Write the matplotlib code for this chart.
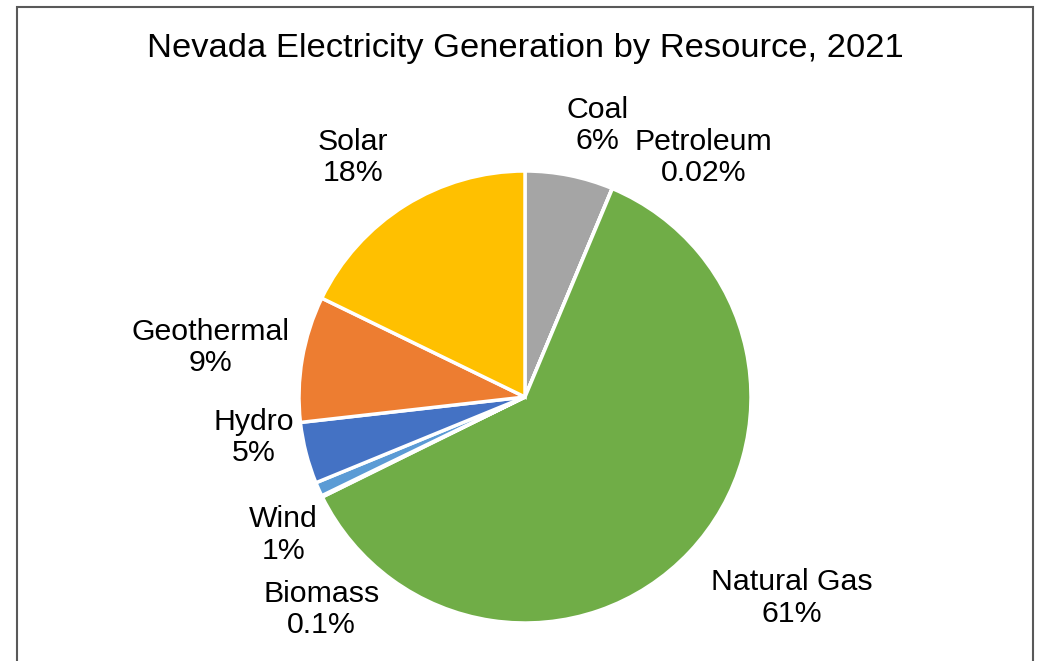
import matplotlib.pyplot as plt
from matplotlib.patches import Rectangle

plt.rcParams['font.family'] = ['Liberation Sans', 'DejaVu Sans']

# data, clockwise from 12 o'clock
resources = ['Coal', 'Petroleum', 'Natural Gas', 'Biomass', 'Wind', 'Hydro', 'Geothermal', 'Solar']
shares = [6.3, 0.02, 61.4, 0.1, 1.0, 4.4, 9.0, 17.8]
pct_labels = ['6%', '0.02%', '61%', '0.1%', '1%', '5%', '9%', '18%']
colors = ['#A5A5A5', '#7F7F7F', '#70AD47', '#264478', '#5B9BD5', '#4472C4', '#ED7D31', '#FFC000']

# label centres in pie units (radius = 1)
label_pos = {
    'Coal': (0.32, 1.20),
    'Petroleum': (0.79, 1.06),
    'Natural Gas': (1.18, -0.89),
    'Biomass': (-0.90, -0.94),
    'Wind': (-1.07, -0.61),
    'Hydro': (-1.20, -0.18),
    'Geothermal': (-1.39, 0.22),
    'Solar': (-0.76, 1.06),
}

W, H = 1043, 661
fig = plt.figure(figsize=(W / 100, H / 100), dpi=100)

# chart border
fig.patches.append(Rectangle((17 / W, -0.05), (1033 - 17) / W, 1.05 - 7 / H,
                             transform=fig.transFigure, fill=False,
                             edgecolor='#595959', linewidth=1.5))

cx, cy, r = 525, 397, 226
ax = fig.add_axes([(cx - r) / W, (H - cy - r) / H, 2 * r / W, 2 * r / H])
ax.pie(shares, colors=colors, startangle=90, counterclock=False,
       wedgeprops=dict(edgecolor='white', linewidth=2.5))
ax.set_xlim(-1, 1)
ax.set_ylim(-1, 1)
ax.set_aspect('auto')
ax.axis('off')

for name, pct in zip(resources, pct_labels):
    x, y = label_pos[name]
    ax.text(x, y, name + '\n' + pct, ha='center', va='center',
            fontsize=21.8, linespacing=1.15, clip_on=False)

fig.text(525 / W, 1 - 48 / H, 'Nevada Electricity Generation by Resource, 2021',
         ha='center', va='center', fontsize=24.8)

fig.savefig('out.png', dpi=100)
